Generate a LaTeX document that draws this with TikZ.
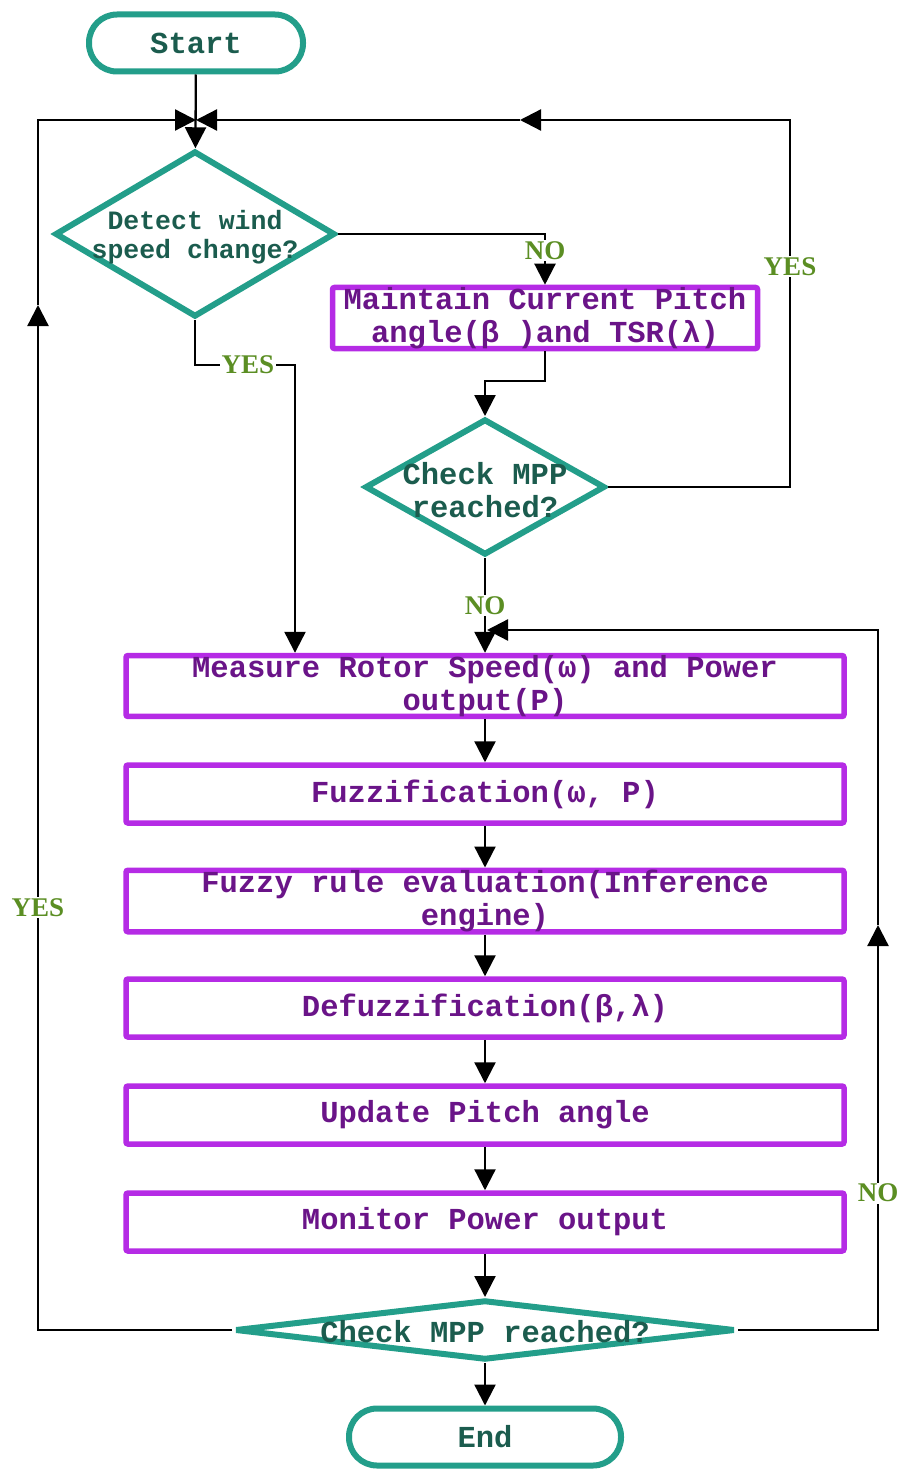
\documentclass[tikz,border=0pt]{standalone}
\usepackage{fontspec}
\setmonofont{Liberation Mono}
\newfontfamily\lblfont{Liberation Serif}
\usetikzlibrary{shapes.geometric,arrows.meta}
\definecolor{flowteal}{HTML}{239E8A}
\definecolor{flowtealtext}{HTML}{1B5C4E}
\definecolor{flowpurple}{HTML}{B52BE5}
\definecolor{flowpurpletext}{HTML}{6A1488}
\definecolor{flowgreen}{HTML}{5B8E23}
\begin{document}
\begin{tikzpicture}[x=1pt,y=-1pt,line join=miter,
    terminal/.style={draw=flowteal,line width=6pt,rounded corners=28pt,
      minimum width=#1,minimum height=57pt,inner sep=0pt,
      font=\fontsize{30.5}{32}\selectfont\ttfamily\bfseries,text=flowtealtext},
    decision/.style={diamond,draw=flowteal,line width=6pt,miter limit=4,inner sep=0pt},
    dtext/.style={inner sep=0pt,align=center,text=flowtealtext,
      font=\fontsize{30.5}{33}\selectfont\ttfamily\bfseries},
    process/.style={draw=flowpurple,line width=5.5pt,rounded corners=2pt,
      minimum width=#1,minimum height=58pt,inner sep=0pt,align=center,
      font=\fontsize{30.5}{32.5}\selectfont\ttfamily\bfseries,text=flowpurpletext},
    flow/.style={line width=2.3pt,-{Triangle[length=21pt,width=21pt]}},
    lbl/.style={fill=white,inner sep=1.5pt,text=flowgreen,
      font=\fontsize{27}{27}\selectfont\lblfont\bfseries}]
  \useasboundingbox (0,0) rectangle (901,1469);

  % top part
  \node[terminal=214pt] (start) at (196,43) {Start};
  \node[decision,minimum width=280pt,minimum height=166pt] (detect) at (195,234) {};
  \node[dtext,font=\fontsize{26.5}{29}\selectfont\ttfamily\bfseries] (detecttext) at (195,237)
    {Detect wind\\speed change?};
  \node[process=425pt] (maintain) at (545,318) {Maintain Current Pitch\\angle(β )and TSR(λ)};
  \node[decision,minimum width=240pt,minimum height=136pt] (mppa) at (485,487) {};
  \node[dtext] (mppatext) at (485,490) {Check MPP\\reached?};

  % fuzzy chain
  \node[process=718pt] (measure) at (485,686) {Measure Rotor Speed(ω) and Power\\output(P)};
  \node[process=718pt] (fuzz) at (485,794) {Fuzzification(ω, P)};
  \node[process=718pt] (rules) at (485,901) {Fuzzy rule evaluation(Inference\\engine)};
  \node[process=718pt] (defuzz) at (485,1008) {Defuzzification(β,λ)};
  \node[process=718pt] (update) at (485,1115) {Update Pitch angle};
  \node[process=718pt] (monitor) at (485,1222) {Monitor Power output};
  \node[decision,minimum width=500pt,minimum height=60pt] (mppb) at (485,1330) {};
  \node[dtext] (mppbtext) at (485,1332) {Check MPP reached?};
  \node[terminal=272pt] (stop) at (485,1437) {End};

  \coordinate (join) at (196,120);
  \coordinate (yesleft) at (520,120);
  \coordinate (rtop) at (790,120);
  \coordinate (yesup) at (38,305);
  \coordinate (noup) at (878,925);
  \coordinate (noin) at (487,630);
  \coordinate (dbend) at (295,365);

  % connectors
  \draw[flow] (start) -- (detect);
  \draw[flow] (detect.east) -| node[lbl,pos=0.66] {NO} (maintain.north);
  \draw[flow] (maintain.south) -- ++(0,30) -| (mppa.north);
  \draw[flow] (mppa.east) -| node[lbl,pos=0.8] {YES} (rtop) -- (yesleft);
  \draw[flow] (yesleft) -- (join);
  \draw[flow] (mppa.south) -- node[lbl] {NO} (measure.north);
  \draw[flow] (detect.south) |- node[lbl,pos=0.765] {YES} (dbend) -- (dbend |- measure.north);
  \foreach \a/\b in {measure/fuzz,fuzz/rules,rules/defuzz,defuzz/update,
      update/monitor,monitor/mppb,mppb/stop}
    \draw[flow] (\a) -- (\b);
  \draw[flow] (mppb.west) -| node[lbl,pos=0.706] {YES} (yesup);
  \draw[flow] (yesup) |- (join);
  \draw[flow] (mppb.east) -| node[lbl,pos=0.669] {NO} (noup);
  \draw[flow] (noup) |- (noin);
\end{tikzpicture}
\end{document}
